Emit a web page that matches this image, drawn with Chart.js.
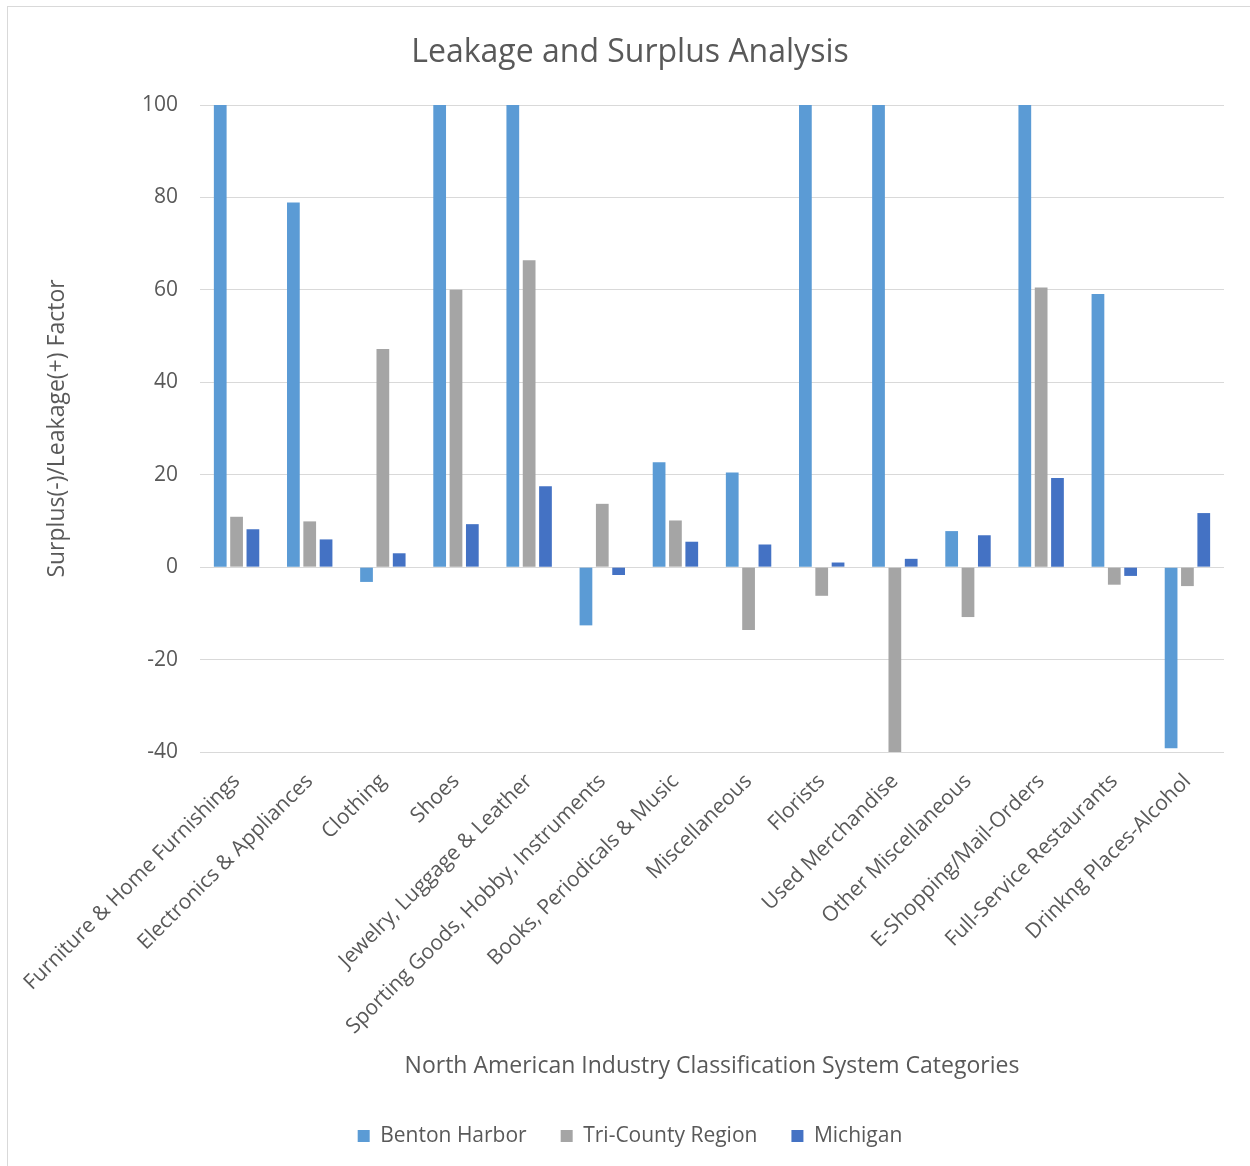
<!DOCTYPE html>
<html>
<head>
<meta charset="utf-8">
<script src="https://cdn.jsdelivr.net/npm/chart.js@4.4.0/dist/chart.umd.min.js"></script>
<style>
    html, body { margin: 0; padding: 0; background: #fff; }
    #wrap { position: relative; width: 1250px; height: 1166px; overflow: hidden; }
    #frame { position: absolute; left: 7px; top: 6px; width: 1300px; height: 1300px;
             border-left: 1px solid #d9d9d9; border-top: 1px solid #d9d9d9; box-sizing: border-box; }
    canvas { position: absolute; left: 0; top: 0; }
</style>
</head>
<body>
<div id="wrap">
    <div id="frame"></div>
    <canvas id="leakageChart" width="1250" height="1166"></canvas>
</div>
<script>
// categories and values
const categories = [
    'Furniture & Home Furnishings', 'Electronics & Appliances', 'Clothing', 'Shoes',
    'Jewelry, Luggage & Leather', 'Sporting Goods, Hobby, Instruments', 'Books, Periodicals & Music',
    'Miscellaneous', 'Florists', 'Used Merchandise', 'Other Miscellaneous',
    'E-Shopping/Mail-Orders', 'Full-Service Restaurants', 'Drinkng Places-Alcohol'
];
const bentonHarbor = [100, 78.9, -3.2, 100, 100, -12.6, 22.7, 20.5, 100, 100, 7.8, 100, 59.1, -39.2];
const triCounty = [10.9, 9.9, 47.2, 60.0, 66.4, 13.7, 10.1, -13.6, -6.2, -40, -10.8, 60.5, -3.8, -4.1];
const michigan = [8.2, 6.0, 3.0, 9.3, 17.5, -1.7, 5.5, 4.9, 1.0, 1.8, 6.9, 19.3, -1.9, 11.7];
const yTicks = [-40, -20, 0, 20, 40, 60, 80, 100];

const textColor = '#595959';
const fontFamily = '"Open Sans", "DejaVu Sans", sans-serif';

const ctx = document.getElementById('leakageChart').getContext('2d');
const leakageChart = new Chart(ctx, {
    type: 'bar',
    data: {
        labels: categories,
        datasets: [
            { label: 'Benton Harbor', data: bentonHarbor, backgroundColor: '#5b9bd5', borderWidth: 0 },
            { label: 'Tri-County Region', data: triCounty, backgroundColor: '#a5a5a5', borderWidth: 0 },
            { label: 'Michigan', data: michigan, backgroundColor: '#4472c4', borderWidth: 0 }
        ]
    },
    options: {
        responsive: false,
        animation: false,
        devicePixelRatio: 1,
        categoryPercentage: 0.67,
        barPercentage: 0.78,
        layout: { padding: { left: 36, right: 26, top: 0, bottom: 9.5 } },
        scales: {
            x: {
                grid: { display: false },
                border: { display: false },
                ticks: {
                    autoSkip: false,
                    minRotation: 45,
                    maxRotation: 45,
                    padding: 9,
                    color: textColor,
                    font: { family: fontFamily, size: 21 }
                },
                title: {
                    display: true,
                    text: 'North American Industry Classification System Categories',
                    color: textColor,
                    font: { family: fontFamily, size: 23 },
                    padding: { top: 0, bottom: 11.7 }
                },
                afterFit: function(scale) { scale.height = 339.5; }
            },
            y: {
                min: -40,
                max: 100,
                afterBuildTicks: function(scale) { scale.ticks = yTicks.map(v => ({ value: v })); },
                grid: { color: '#d9d9d9', lineWidth: 1, drawTicks: false },
                border: { display: false },
                ticks: {
                    padding: 22,
                    color: textColor,
                    font: { family: fontFamily, size: 21 }
                },
                title: {
                    display: true,
                    text: 'Surplus(-)/Leakage(+) Factor',
                    color: textColor,
                    font: { family: fontFamily, size: 23 },
                    padding: { top: 8, bottom: 0 }
                },
                afterFit: function(scale) { scale.width = 164; }
            }
        },
        plugins: {
            title: {
                display: true,
                text: 'Leakage and Surplus Analysis',
                color: textColor,
                font: { family: fontFamily, size: 32, weight: 'normal' },
                padding: { top: 34, bottom: 32.6 }
            },
            legend: {
                position: 'bottom',
                labels: {
                    boxWidth: 12,
                    boxHeight: 12,
                    padding: 34,
                    color: textColor,
                    font: { family: fontFamily, size: 21 }
                }
            },
            tooltip: { enabled: false }
        }
    }
});
</script>
</body>
</html>
